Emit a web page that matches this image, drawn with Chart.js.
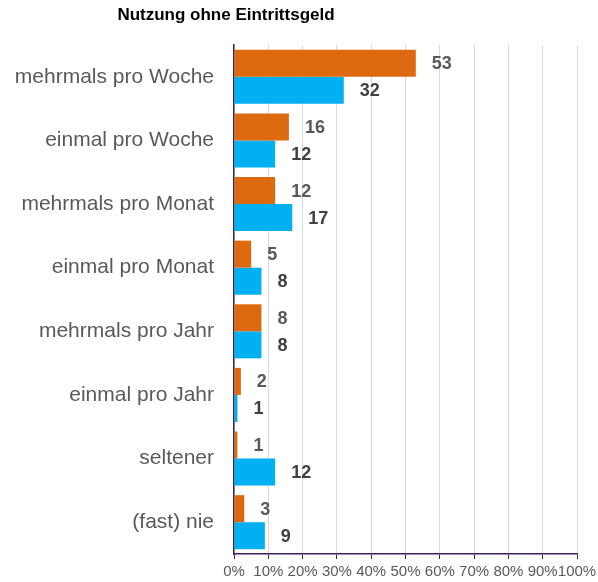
<!DOCTYPE html>
<html>
<head>
<meta charset="utf-8">
<script src="https://cdn.jsdelivr.net/npm/chart.js@4"></script>
<style>
  html, body { margin: 0; padding: 0; background: #fff; }
  #wrap { position: relative; width: 598px; height: 582px; }
  #title {
    position: absolute; left: 0; top: 5px; width: 452px; text-align: center;
    font: bold 17px "Liberation Sans", Arial, sans-serif; color: #000;
  }
</style>
</head>
<body>
<div id="wrap">
  <div id="title">Nutzung ohne Eintrittsgeld</div>
  <canvas id="chart" width="598" height="582"></canvas>
</div>
<script>
/* ── DATA ── */
const categories = [
  'mehrmals pro Woche',
  'einmal pro Woche',
  'mehrmals pro Monat',
  'einmal pro Monat',
  'mehrmals pro Jahr',
  'einmal pro Jahr',
  'seltener',
  '(fast) nie'
];
const seriesOrange = [53, 16, 12, 5, 8, 2, 1, 3];
const seriesBlue   = [32, 12, 17, 8, 8, 1, 12, 9];
const xTicks       = [0, 10, 20, 30, 40, 50, 60, 70, 80, 90, 100];

const FONT     = '"Liberation Sans", Arial, sans-serif';
const axisClr  = '#40205a';
const gridClr  = '#d9d9d9';
const textClr  = '#595959';

// value labels just right of each bar end
const valueLabels = {
  id: 'valueLabels',
  afterDatasetsDraw(chart) {
    const {ctx} = chart;
    chart.data.datasets.forEach((ds, di) => {
      const meta = chart.getDatasetMeta(di);
      if (meta.hidden) return;
      ctx.save();
      ctx.font = 'bold 18px ' + FONT;
      ctx.fillStyle = ds.labelColor;
      ctx.textAlign = 'left';
      ctx.textBaseline = 'middle';
      meta.data.forEach((bar, i) => {
        ctx.fillText(ds.data[i], bar.x + 16, bar.y + 1);
      });
      ctx.restore();
    });
  }
};

new Chart(document.getElementById('chart').getContext('2d'), {
  type: 'bar',
  plugins: [valueLabels],
  data: {
    labels: categories,
    datasets: [
      {
        label: 'Reihe 1',
        data: seriesOrange,
        backgroundColor: '#de6a10',
        labelColor: '#595959',
        barPercentage: 1,
        categoryPercentage: 0.85
      },
      {
        label: 'Reihe 2',
        data: seriesBlue,
        backgroundColor: '#00b0f0',
        labelColor: '#404040',
        barPercentage: 1,
        categoryPercentage: 0.85
      }
    ]
  },
  options: {
    indexAxis: 'y',
    responsive: false,
    animation: false,
    layout: { padding: { top: 45, right: 21, left: 0, bottom: 0 } },
    plugins: {
      legend: { display: false },
      tooltip: { enabled: false }
    },
    scales: {
      x: {
        min: 0,
        max: 100,
        // fixed plot box: 0% at x=234, 100% at x=577, axis at y=554
        afterFit: s => {
          s.height = 28;
          s.paddingLeft = 0; s.paddingRight = 21;
          s.paddingTop = 0;  s.paddingBottom = 0;
        },
        afterBuildTicks: s => { s.ticks = xTicks.map(v => ({ value: v })); },
        grid: { color: gridClr, tickColor: axisClr, tickLength: 5, lineWidth: 1 },
        border: { color: axisClr, width: 1.5 },
        ticks: {
          autoSkip: false,
          maxRotation: 0,
          padding: 4,
          color: textClr,
          font: { size: 15, family: FONT },
          callback: v => v + '%'
        }
      },
      y: {
        afterFit: s => {
          s.width = 234;
          s.paddingTop = 0; s.paddingBottom = 0;
        },
        grid: { display: false, drawTicks: false },
        border: { color: axisClr, width: 1.5 },
        ticks: {
          padding: 20,
          color: textClr,
          font: { size: 21, family: FONT }
        }
      }
    }
  }
});
</script>
</body>
</html>
